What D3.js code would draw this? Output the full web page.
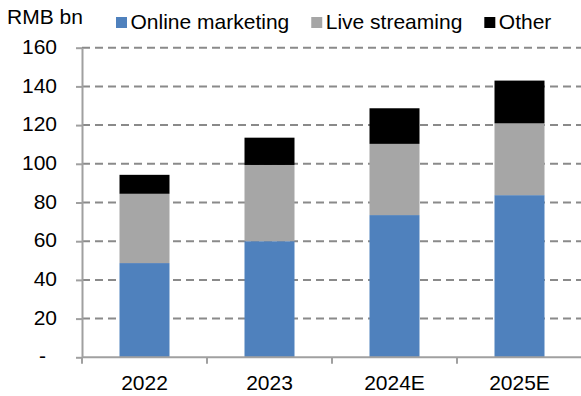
<!DOCTYPE html>
<html>
<head>
<meta charset="utf-8">
<script src="https://cdn.jsdelivr.net/npm/d3@7/dist/d3.min.js"></script>
<style>
  html, body { margin: 0; padding: 0; background: #fff; }
  svg { display: block; font-family: "Liberation Sans", Arial, sans-serif; }
</style>
</head>
<body>
<svg id="chart" width="581" height="396"></svg>
<script>
// Revenue breakdown, RMB bn
const categories = ["2022", "2023", "2024E", "2025E"];
const onlineMarketing = [48.7, 60.0, 73.5, 83.8];
const liveStreaming = [35.8, 39.4, 36.8, 37.1];
const other = [9.8, 14.1, 18.4, 22.1];
const seriesNames = ["Online marketing", "Live streaming", "Other"];
const seriesColors = ["#4f81bd", "#a6a6a6", "#000000"];
const yTicks = [0, 20, 40, 60, 80, 100, 120, 140, 160];

const W = 581, H = 396;
const plot = { left: 82, right: 582, top: 47.7, bottom: 357.3 };
const fontSize = 21;
const axisColor = "#a0a0a0";

const svg = d3.select("#chart");

const x = d3.scaleBand()
  .domain(categories)
  .range([plot.left, plot.right])
  .paddingInner(0.6)
  .paddingOuter(0.3);

const y = d3.scaleLinear()
  .domain([0, 160])
  .range([plot.bottom, plot.top]);

// dashed horizontal gridlines
svg.append("g")
  .selectAll("line")
  .data(yTicks.filter(d => d > 0))
  .join("line")
  .attr("x1", plot.left)
  .attr("x2", W)
  .attr("y1", d => y(d))
  .attr("y2", d => y(d))
  .attr("stroke", "#8a8a8a")
  .attr("stroke-width", 2)
  .attr("stroke-dasharray", "8,5");

// stacked bars
const rows = categories.map((c, i) => ({
  category: c,
  "Online marketing": onlineMarketing[i],
  "Live streaming": liveStreaming[i],
  "Other": other[i]
}));
const stacked = d3.stack().keys(seriesNames)(rows);

svg.append("g")
  .selectAll("g")
  .data(stacked)
  .join("g")
  .attr("fill", (d, i) => seriesColors[i])
  .selectAll("rect")
  .data(d => d)
  .join("rect")
  .attr("x", d => x(d.data.category))
  .attr("width", x.bandwidth())
  .attr("y", d => y(d[1]))
  .attr("height", d => y(d[0]) - y(d[1]));

// y axis
const yAxis = d3.axisLeft(y)
  .tickValues(yTicks)
  .tickSize(6)
  .tickSizeOuter(0)
  .tickPadding(19)
  .tickFormat(d => d === 0 ? "-" : d3.format("d")(d));

const gy = svg.append("g")
  .attr("transform", `translate(${plot.left},0)`)
  .call(yAxis);
gy.select(".domain").attr("stroke", axisColor).attr("stroke-width", 2);
gy.selectAll(".tick line").attr("stroke", axisColor).attr("stroke-width", 2);
gy.selectAll(".tick text")
  .attr("font-size", fontSize)
  .attr("fill", "#000")
  .attr("dy", "0.27em")
  .attr("dx", d => d === 0 ? -11 : 0);

// x axis: labels centred under bars
const xAxis = d3.axisBottom(x).tickSize(0).tickSizeOuter(0).tickPadding(18);
const gx = svg.append("g")
  .attr("transform", `translate(0,${plot.bottom})`)
  .call(xAxis);
gx.select(".domain").remove();
gx.selectAll(".tick text").attr("font-size", fontSize).attr("fill", "#000");

// baseline and tick marks at category boundaries
const boundaries = categories.map((c, i) => plot.left + i * x.step());
svg.append("line")
  .attr("x1", plot.left).attr("x2", W)
  .attr("y1", plot.bottom).attr("y2", plot.bottom)
  .attr("stroke", axisColor).attr("stroke-width", 2);
svg.append("g")
  .selectAll("line")
  .data(boundaries)
  .join("line")
  .attr("x1", d => d).attr("x2", d => d)
  .attr("y1", plot.bottom).attr("y2", plot.bottom + 6.5)
  .attr("stroke", axisColor).attr("stroke-width", 2);

// unit label
svg.append("text")
  .attr("x", 7).attr("y", 24)
  .attr("font-size", fontSize)
  .attr("fill", "#000")
  .text("RMB bn");

// legend
const legend = svg.append("g");
let lx = 116;
seriesNames.forEach((name, i) => {
  legend.append("rect")
    .attr("x", lx).attr("y", 17)
    .attr("width", 11).attr("height", 11)
    .attr("fill", seriesColors[i]);
  const t = legend.append("text")
    .attr("x", lx + 14.5).attr("y", 29)
    .attr("font-size", fontSize)
    .attr("fill", "#000")
    .text(name);
  lx += 14.5 + t.node().getComputedTextLength() + 22;
});
</script>
</body>
</html>
